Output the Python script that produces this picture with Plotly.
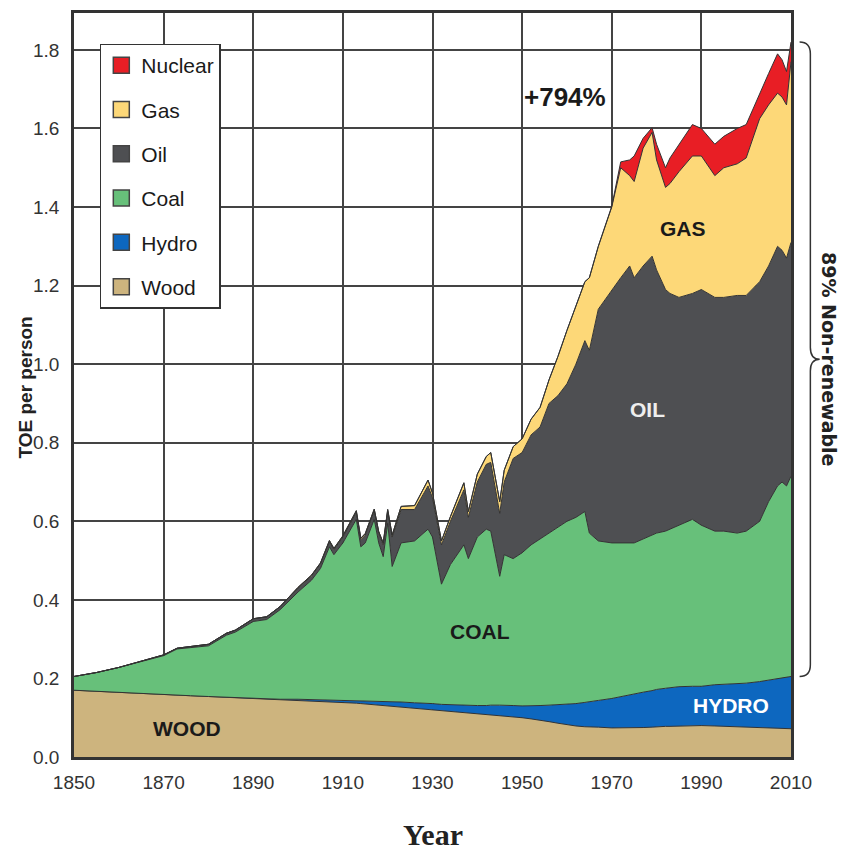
import plotly.graph_objects as go

years = [1850,1855,1860,1865,1870,1873,1876,1880,1884,1886,1890,1893,1896,1900,1903,1905,1907,1908,1910,1911,
         1913,1914,1915,1917,1918,1919,1920,1921,1923,1926,1929,1930,1932,1934,1937,1938,1940,1942,1943,1945,
         1946,1948,1950,1952,1954,1956,1958,1960,1962,1964,1965,1967,1970,1972,1974,1975,1977,1979,1980,1982,
         1983,1985,1988,1990,1993,1995,1998,2000,2003,2005,2007,2008,2009,2010]

wood = [.170,.167,.164,.161,.158,.157,.156,.154,.152,.151,.149,.148,.147,.145,.143,.142,.141,.140,.139,.138,
        .137,.136,.135,.134,.133,.132,.131,.130,.128,.125,.122,.121,.119,.117,.114,.113,.111,.109,.108,.106,
        .105,.103,.100,.097,.094,.090,.086,.082,.079,.077,.077,.076,.074,.074,.074,.074,.075,.076,.077,.078,
        .078,.079,.080,.080,.079,.078,.077,.076,.075,.074,.073,.072,.072,.072]

hydro = [0,0,0,0,0,0,0,0,0,0,0,0,0,.002,.003,.004,.005,.005,.006,.006,
         .007,.007,.008,.009,.009,.010,.010,.010,.012,.013,.015,.015,.015,.016,.018,.018,.020,.022,.024,.026,
         .027,.028,.030,.033,.037,.042,.047,.052,.057,.062,.064,.068,.075,.080,.085,.087,.090,.093,.095,.097,
         .098,.100,.100,.100,.105,.107,.110,.112,.117,.122,.127,.129,.131,.133]

coal = [.035,.048,.064,.082,.100,.118,.122,.129,.158,.167,.196,.202,.228,.273,.304,.334,.389,.370,.400,.421,
        .461,.392,.402,.462,.403,.368,.454,.345,.405,.412,.443,.424,.306,.357,.408,.374,.429,.449,.443,.328,
        .383,.374,.390,.410,.424,.438,.452,.466,.474,.486,.429,.406,.396,.391,.386,.384,.390,.396,.398,.400,
        .404,.411,.425,.410,.391,.390,.383,.387,.408,.454,.490,.499,.487,.510]

oil = [0,0,0,0,.002,.002,.003,.004,.005,.005,.007,.007,.008,.010,.011,.012,.013,.013,.015,.016,
       .018,.018,.020,.022,.025,.030,.030,.075,.085,.080,.110,.100,.100,.110,.140,.105,.140,.165,.175,.160,
       .185,.255,.255,.280,.285,.330,.335,.350,.390,.435,.465,.590,.645,.675,.705,.675,.695,.710,.670,.615,
       .600,.580,.575,.600,.595,.595,.605,.600,.610,.600,.610,.590,.580,.595]

gas = [0,0,0,0,0,0,0,0,0,0,0,0,0,.002,.002,.002,.003,.003,.003,.003,
       .004,.004,.004,.004,.004,.005,.005,.005,.008,.010,.015,.012,.010,.012,.018,.015,.020,.020,.025,.030,
       .030,.030,.035,.040,.050,.060,.100,.136,.150,.150,.185,.160,.210,.280,.230,.245,.300,.315,.280,.260,
       .280,.320,.350,.340,.310,.330,.335,.350,.415,.410,.390,.390,.390,.460]

nuclear = [0]*52 + [.002,.015,.040,.065,.025,.012,.040,.050,
           .065,.070,.080,.070,.080,.080,.090,.085,.065,.080,.100,.095,.085,.050]

series_names = ["Wood", "Hydro", "Coal", "Oil", "Gas", "Nuclear"]
series_vals = [wood, hydro, coal, oil, gas, nuclear]
colors = ["#cdb47e", "#0d67bf", "#67c07a", "#4e4f52", "#fdd878", "#e81e25"]

SANS = "Liberation Sans, Arial, sans-serif"

fig = go.Figure()
for name, vals, col in zip(series_names, series_vals, colors):
    fig.add_trace(go.Scatter(
        x=years, y=vals, name=name, mode="lines", stackgroup="one",
        fillcolor=col, line=dict(color="#333333", width=1),
        showlegend=False, hoverinfo="skip"))
# legend entries with box swatches (top of stack listed first)
for name, col in reversed(list(zip(series_names, colors))):
    fig.add_trace(go.Scatter(
        x=[None], y=[None], name=name, mode="markers", legendgroup="lg_" + name,
        marker=dict(symbol="square", size=16, color=col, line=dict(color="#444444", width=1.5)),
        showlegend=True, hoverinfo="skip"))

# brace to the right of the plot
ylow = wood[-1] + hydro[-1]
yhigh = sum(v[-1] for v in series_vals)
ym = (ylow + yhigh) / 2
r = 0.03
x0, x1, xt = 1.012, 1.027, 1.040
path = (f"M {x0},{yhigh} Q {x1},{yhigh} {x1},{yhigh - r} L {x1},{ym + r} "
        f"Q {x1},{ym} {xt},{ym} Q {x1},{ym} {x1},{ym - r} L {x1},{ylow + r} "
        f"Q {x1},{ylow} {x0},{ylow}")
fig.add_shape(type="path", path=path, xref="paper", yref="y",
              line=dict(color="#333333", width=1.5))

label_font = dict(family=SANS, size=21, color="#1a1a1a")
annos = [
    dict(x=1959.6, y=1.68, text="<b>+794%</b>", font=dict(family=SANS, size=26, color="#1a1a1a")),
    dict(x=1986, y=1.345, text="<b>GAS</b>", font=label_font),
    dict(x=1978, y=0.885, text="<b>OIL</b>", font=dict(family=SANS, size=21, color="#eeeeee")),
    dict(x=1940.6, y=0.32, text="<b>COAL</b>", font=label_font),
    dict(x=1996.5, y=0.13, text="<b>HYDRO</b>", font=dict(family=SANS, size=21, color="#ffffff")),
    dict(x=1875.2, y=0.073, text="<b>WOOD</b>", font=label_font),
]
for a in annos:
    fig.add_annotation(showarrow=False, xref="x", yref="y", xanchor="center", yanchor="middle", **a)

fig.add_annotation(x=1.052, y=ym, xref="paper", yref="y", text="<b>89% Non-renewable</b>",
                   textangle=90, showarrow=False, xanchor="center", yanchor="middle",
                   font=dict(family="DejaVu Sans, sans-serif", size=19, color="#222222"))
fig.add_annotation(x=0.5, y=-0.104, xref="paper", yref="paper", text="<b>Year</b>", showarrow=False,
                   xanchor="center", yanchor="middle",
                   font=dict(family="Liberation Serif, Times New Roman, serif", size=30, color="#222222"))
fig.add_annotation(x=-0.068, y=0.497, xref="paper", yref="paper", text="<b>TOE per person</b>",
                   textangle=-90, showarrow=False, xanchor="center", yanchor="middle",
                   font=dict(family=SANS, size=19, color="#222222"))

fig.update_layout(
    width=845, height=857, autosize=False,
    margin=dict(l=74, r=54, t=10, b=100),
    plot_bgcolor="white", paper_bgcolor="white",
    showlegend=True,
    legend=dict(x=0.036, y=0.959, xanchor="left", yanchor="top", traceorder="grouped",
                bgcolor="white", bordercolor="#333333", borderwidth=1.5,
                font=dict(family=SANS, size=21, color="#1a1a1a"),
                tracegroupgap=14, itemwidth=30),
    xaxis=dict(range=[1850, 2010], tickvals=list(range(1850, 2011, 20)),
               showgrid=True, gridcolor="#444444", gridwidth=1.5,
               showline=True, linecolor="#333333", linewidth=2.5, mirror=True,
               ticks="", ticklabelstandoff=6,
               tickfont=dict(family=SANS, size=19, color="#333333"), zeroline=False),
    yaxis=dict(range=[0, 1.894], tickvals=[0, 0.2, 0.4, 0.6, 0.8, 1.0, 1.2, 1.4, 1.6, 1.8],
               tickformat=".1f", showgrid=True, gridcolor="#444444", gridwidth=1.5,
               showline=True, linecolor="#333333", linewidth=2.5, mirror=True,
               ticks="", ticklabelstandoff=8,
               tickfont=dict(family=SANS, size=19, color="#333333"), zeroline=False),
)

fig.write_html("out.html", config={"displayModeBar": False},
               post_script="document.body.style.margin='0px';")
